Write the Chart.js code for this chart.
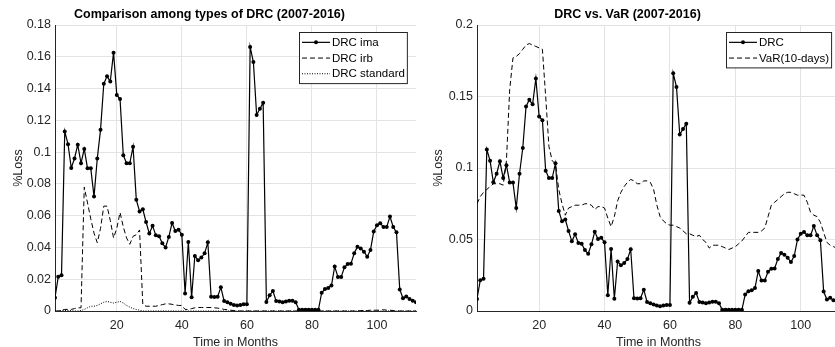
<!DOCTYPE html>
<html>
<head>
<meta charset="utf-8">
<script src="https://cdn.jsdelivr.net/npm/chart.js@4.4.0/dist/chart.umd.min.js"></script>
<style>
  html, body { margin: 0; padding: 0; background: #fff; width: 835px; height: 347px; overflow: hidden; }
  #left { position: absolute; left: 0; top: 0; }
  #right { position: absolute; left: 415px; top: 0; }
</style>
</head>
<body>
<canvas id="left" width="420" height="347"></canvas>
<canvas id="right" width="430" height="347"></canvas>
<script>
// month index 1..112 (x axis)
const months = Array.from({ length: 112 }, (_, i) => i + 1);

const drcIma = [
  0.0084, 0.0215, 0.0225, 0.113, 0.105, 0.090, 0.096, 0.1047, 0.093, 0.102,
  0.0898, 0.0898, 0.072, 0.096, 0.114, 0.143, 0.1477, 0.1445, 0.1626, 0.136,
  0.1334, 0.098, 0.093, 0.093, 0.1034, 0.070, 0.0627, 0.064, 0.056, 0.0487,
  0.0537, 0.0476, 0.047, 0.0426, 0.040, 0.0466, 0.0554, 0.0503, 0.0512, 0.048,
  0.011, 0.0434, 0.0086, 0.0346, 0.032, 0.0336, 0.0363, 0.0432, 0.009, 0.0088,
  0.009, 0.0149, 0.0063, 0.0055, 0.0046, 0.0038, 0.0034, 0.0038, 0.0042, 0.0042,
  0.1662, 0.1567, 0.1234, 0.1273, 0.131, 0.0057, 0.0099, 0.0126, 0.0063, 0.006,
  0.0055, 0.006, 0.0065, 0.0065, 0.0055, 0.0008, 0.0008, 0.0008, 0.0008, 0.0008,
  0.0008, 0.0008, 0.0115, 0.0138, 0.0145, 0.016, 0.028, 0.0214, 0.0214, 0.0275,
  0.0296, 0.0298, 0.0363, 0.0405, 0.0394, 0.0373, 0.0342, 0.0384, 0.050, 0.054,
  0.0552, 0.0529, 0.0529, 0.0594, 0.0529, 0.0495, 0.0136, 0.008, 0.0092, 0.0076,
  0.0065, 0.0055
];

const drcIrb = [
  0, 0, 0.0005, 0.001, 0.001, 0.001, 0.0015, 0.002, 0.002, 0.078,
  0.068, 0.058, 0.049, 0.043, 0.052, 0.066, 0.066, 0.057, 0.046, 0.052,
  0.062, 0.053, 0.046, 0.042, 0.047, 0.048, 0.051, 0.004, 0.003, 0.003,
  0.003, 0.003, 0.0035, 0.004, 0.0045, 0.0045, 0.0042, 0.0038, 0.0035, 0.0035,
  0.001, 0.001, 0.0015, 0.002, 0.0022, 0.0022, 0.0022, 0.0022, 0.0022, 0.002,
  0.0018, 0.0015, 0.001, 0.0008, 0.0005, 0.0003, 0, 0, 0, 0,
  0, 0, 0, 0, 0, 0, 0, 0, 0, 0,
  0, 0, 0, 0, 0, 0, 0, 0, 0, 0,
  0, 0, 0, 0, 0, 0, 0, 0, 0, 0,
  0, 0, 0, 0, 0.0003, 0.0003, 0.0003, 0.0005, 0.0005, 0.0005,
  0.0005, 0.0008, 0.0005, 0.0005, 0.0003, 0, 0, 0, 0, 0,
  0, 0
];

const drcStandard = [
  0, 0, 0.0003, 0.0003, 0.0003, 0.0002, 0, 0, 0.0003, 0.001,
  0.002, 0.003, 0.003, 0.0035, 0.0045, 0.0055, 0.006, 0.0055, 0.005, 0.0055,
  0.006, 0.005, 0.0035, 0.0025, 0.0015, 0.001, 0.0005, 0, 0, 0,
  0, 0, 0, 0, 0, 0, 0, 0, 0, 0,
  0, 0, 0, 0, 0, 0, 0, 0, 0, 0,
  0, 0, 0, 0, 0, 0, 0, 0, 0, 0,
  0, 0, 0, 0, 0, 0, 0, 0, 0, 0,
  0, 0, 0, 0, 0, 0, 0, 0, 0, 0,
  0, 0, 0, 0, 0, 0, 0, 0, 0, 0,
  0, 0, 0, 0, 0, 0, 0, 0, 0, 0,
  0, 0, 0, 0, 0, 0, 0, 0, 0, 0,
  0, 0
];

const var10 = [
  0.075, 0.080, 0.083, 0.085, 0.087, 0.089, 0.089, 0.089, 0.088, 0.105,
  0.155, 0.177, 0.178, 0.180, 0.183, 0.186, 0.187, 0.186, 0.185, 0.184,
  0.183, 0.150, 0.115, 0.105, 0.103, 0.085, 0.075, 0.067, 0.072, 0.073,
  0.074, 0.074, 0.074, 0.075, 0.075, 0.074, 0.071, 0.073, 0.073, 0.072,
  0.065, 0.059, 0.066, 0.077, 0.083, 0.087, 0.090, 0.092, 0.091, 0.089,
  0.089, 0.091, 0.091, 0.090, 0.085, 0.074, 0.066, 0.063, 0.061, 0.060,
  0.060, 0.059, 0.058, 0.056, 0.054, 0.054, 0.053, 0.052, 0.053, 0.050,
  0.048, 0.044, 0.046, 0.046, 0.046, 0.045, 0.044, 0.043, 0.044, 0.045,
  0.047, 0.049, 0.052, 0.055, 0.055, 0.055, 0.055, 0.056, 0.058, 0.066,
  0.074, 0.076, 0.078, 0.080, 0.082, 0.083, 0.083, 0.082, 0.081, 0.081,
  0.081, 0.076, 0.069, 0.067, 0.066, 0.062, 0.055, 0.048, 0.046, 0.045,
  0.044, 0.044
];

const xTicks = [20, 40, 60, 80, 100];
const yTicksLeft = [0, 0.02, 0.04, 0.06, 0.08, 0.1, 0.12, 0.14, 0.16, 0.18];
const yTicksRight = [0, 0.05, 0.1, 0.15, 0.2];

const FONT = 'Liberation Sans, Arial, Helvetica, sans-serif';
const INK = '#262626';
const GRID = '#e3e3e3';

const pts = vals => vals.map((v, i) => ({ x: months[i], y: v }));
const fmt = v => String(Number(v.toFixed(2)));

// MATLAB style boxed legend inside the top-right of the plot
const boxLegend = {
  id: 'boxLegend',
  afterDraw(chart) {
    const ctx = chart.ctx, area = chart.chartArea;
    const sets = chart.data.datasets;
    const rowH = 15.7;
    ctx.save();
    ctx.font = '11.5px ' + FONT;
    const tw = Math.max(...sets.map(d => ctx.measureText(d.label).width));
    const w = 32 + tw + 3, h = sets.length * rowH + 4;
    const x0 = Math.round(area.right - 9 - w), y0 = Math.round(area.top + 7);
    ctx.fillStyle = '#fff';
    ctx.fillRect(x0, y0, w, h);
    ctx.strokeStyle = INK;
    ctx.lineWidth = 1;
    ctx.strokeRect(x0 + 0.5, y0 + 0.5, w, h);
    sets.forEach((d, i) => {
      const cy = y0 + 2.5 + rowH * i + rowH / 2;
      ctx.strokeStyle = '#000';
      ctx.lineWidth = d.borderWidth;
      ctx.setLineDash(d.borderDash || []);
      ctx.beginPath();
      ctx.moveTo(x0 + 3, cy);
      ctx.lineTo(x0 + 31, cy);
      ctx.stroke();
      ctx.setLineDash([]);
      if (d.pointRadius > 0) {
        ctx.fillStyle = '#000';
        ctx.beginPath();
        ctx.arc(x0 + 17, cy, 2, 0, Math.PI * 2);
        ctx.fill();
      }
      ctx.fillStyle = '#000';
      ctx.textBaseline = 'middle';
      ctx.textAlign = 'left';
      ctx.fillText(d.label, x0 + 33, cy + 0.5);
    });
    ctx.restore();
  }
};

function makeOptions(title, yTicks, yWidth, yTitlePad, rightPad) {
  return {
    responsive: false,
    animation: false,
    events: [],
    layout: { padding: { left: 0, right: rightPad, top: 0, bottom: 0 } },
    plugins: {
      legend: { display: false },
      tooltip: { enabled: false },
      title: {
        display: true,
        text: title,
        color: '#000',
        font: { family: FONT, size: 12.5, weight: 'bold' },
        padding: { top: 7, bottom: 3 }
      }
    },
    scales: {
      x: {
        type: 'linear',
        min: 1,
        max: 112,
        afterBuildTicks: s => { s.ticks = xTicks.map(v => ({ value: v })); },
        afterFit: s => { s.height = 36; },
        grid: { color: GRID, drawTicks: false },
        border: { color: INK },
        ticks: { color: INK, font: { family: FONT, size: 12.5 }, padding: 7, maxRotation: 0 },
        title: {
          display: true,
          text: 'Time in Months',
          color: INK,
          font: { family: FONT, size: 12.5, lineHeight: 0.7 },
          padding: 0
        }
      },
      y: {
        min: 0,
        max: yTicks[yTicks.length - 1],
        afterBuildTicks: s => { s.ticks = yTicks.map(v => ({ value: v })); },
        afterFit: s => { s.width = yWidth; },
        grid: { color: GRID, drawTicks: false },
        border: { color: INK },
        ticks: { color: INK, font: { family: FONT, size: 12.5 }, padding: 4, callback: v => fmt(v) },
        title: {
          display: true,
          text: '%Loss',
          color: INK,
          font: { family: FONT, size: 12.5, lineHeight: 1 },
          padding: { top: yTitlePad, bottom: 0 }
        }
      }
    }
  };
}

const solidDots = {
  borderColor: '#000', backgroundColor: '#000', borderWidth: 1.2,
  pointRadius: 2, pointBorderWidth: 0, pointBackgroundColor: '#000', tension: 0
};

new Chart(document.getElementById('left'), {
  type: 'line',
  data: {
    datasets: [
      Object.assign({ label: 'DRC ima', data: pts(drcIma) }, solidDots),
      { label: 'DRC irb', data: pts(drcIrb), borderColor: '#000', borderWidth: 1,
        borderDash: [5, 3], pointRadius: 0, tension: 0 },
      { label: 'DRC standard', data: pts(drcStandard), borderColor: '#000', borderWidth: 1,
        borderDash: [1, 1.5], pointRadius: 0, tension: 0 }
    ]
  },
  options: makeOptions('Comparison among types of DRC (2007-2016)', yTicksLeft, 55, 12, 1),
  plugins: [boxLegend]
});

new Chart(document.getElementById('right'), {
  type: 'line',
  data: {
    datasets: [
      Object.assign({ label: 'DRC', data: pts(drcIma) }, solidDots),
      { label: 'VaR(10-days)', data: pts(var10), borderColor: '#000', borderWidth: 1,
        borderDash: [5, 3], pointRadius: 0, tension: 0 }
    ]
  },
  options: makeOptions('DRC vs. VaR (2007-2016)', yTicksRight, 62, 17, 5),
  plugins: [boxLegend]
});
</script>
</body>
</html>
